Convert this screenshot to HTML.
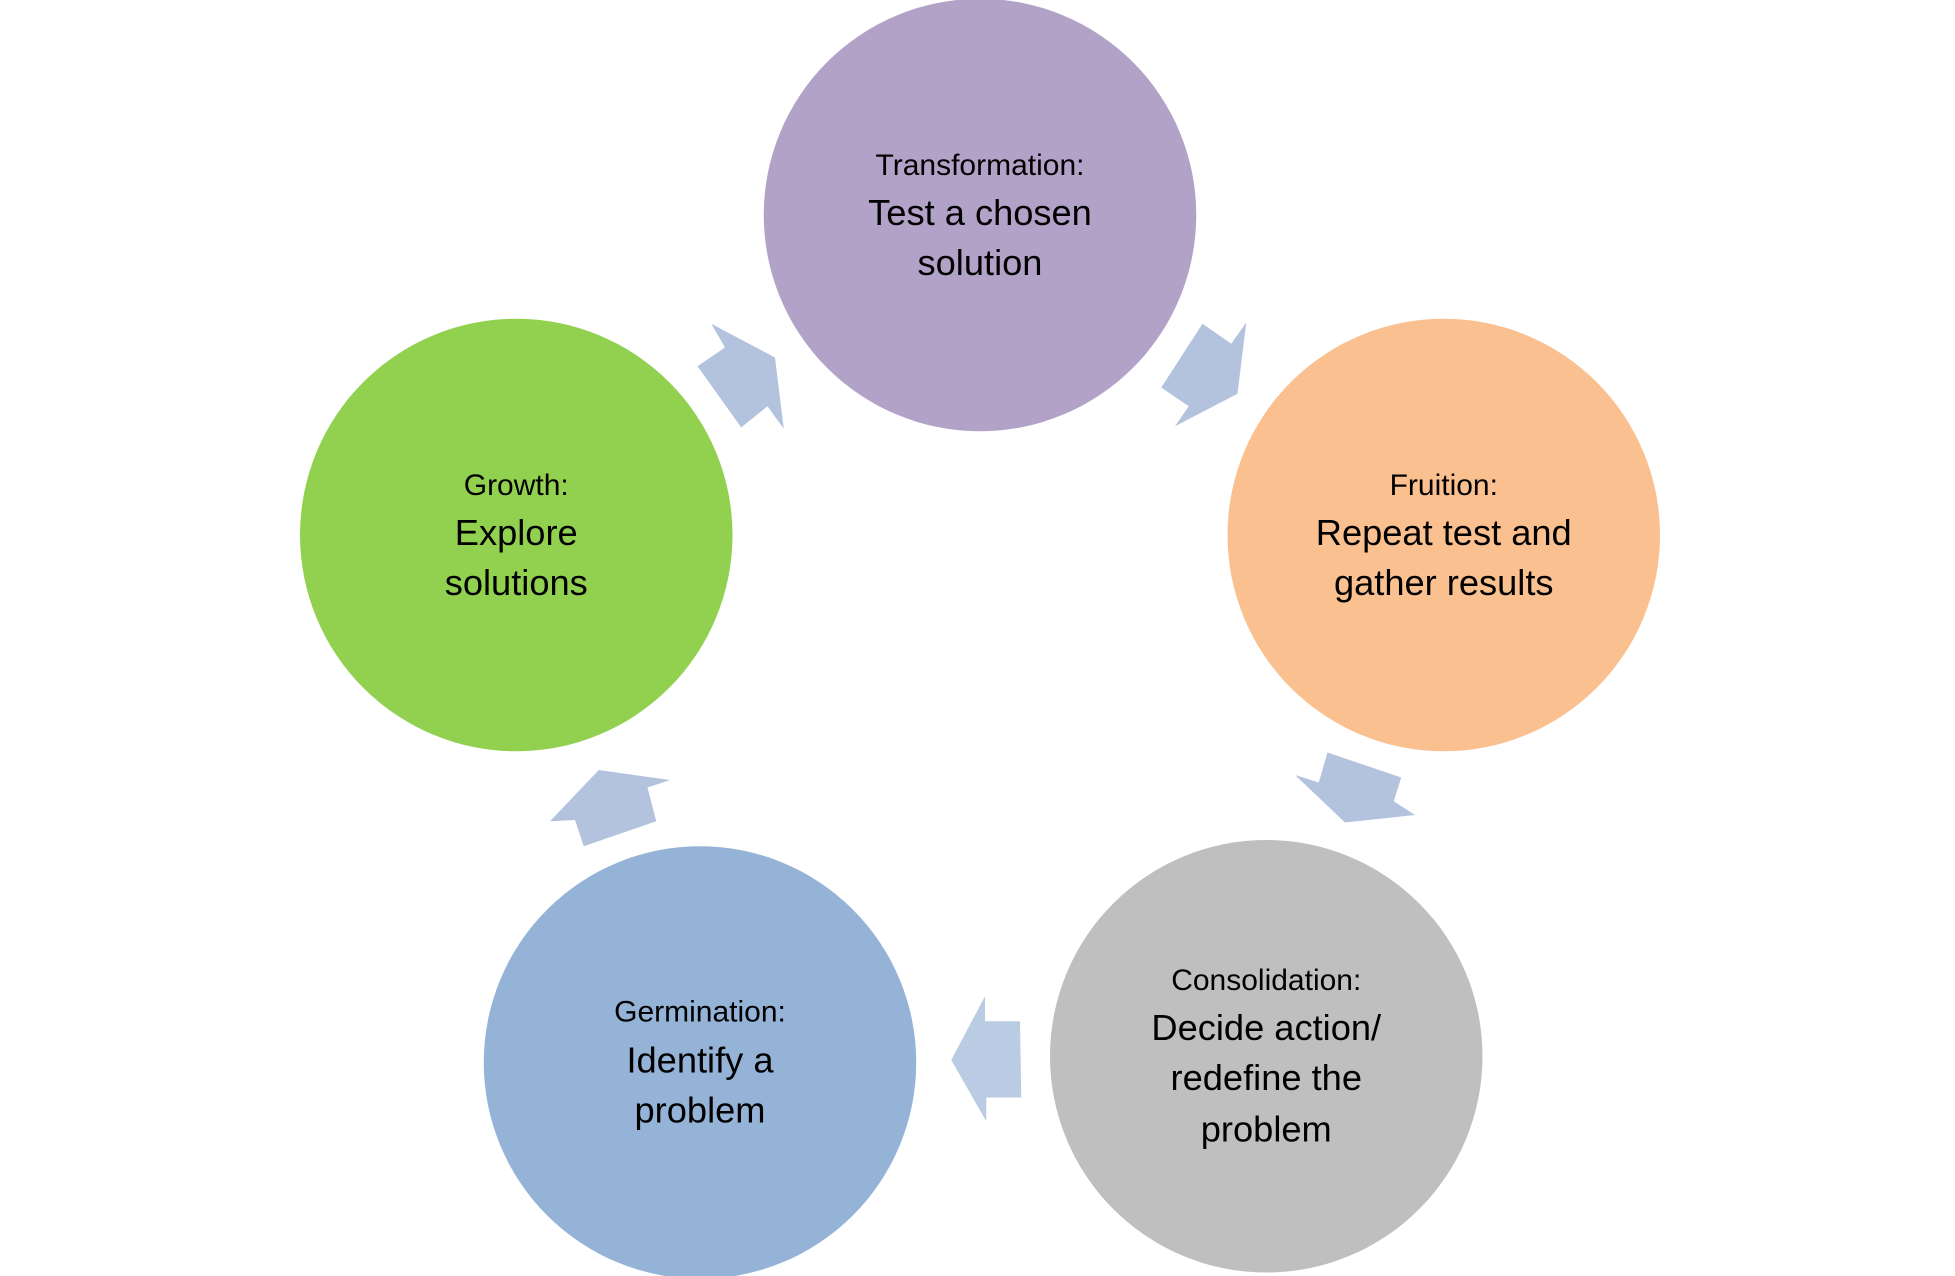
<!DOCTYPE html>
<html><head><meta charset="utf-8"><style>
html,body{margin:0;padding:0;background:#fff;}
svg{display:block;}
text{font-family:"Liberation Sans",sans-serif;fill:#000;text-anchor:middle;}
.s{font-size:24px;}
.b{font-size:29px;}
</style></head><body>
<svg width="1955" height="1276" viewBox="0 0 1564 1020.8" preserveAspectRatio="none">
<circle cx="784" cy="172" r="173" fill="#b3a2c7"/>
<circle cx="1155" cy="428" r="173" fill="#fac090"/>
<circle cx="1013" cy="845" r="173" fill="#bfbfbf"/>
<circle cx="560" cy="850" r="173" fill="#95b3d7"/>
<circle cx="413" cy="428" r="173" fill="#92d050"/>
<polygon fill="#b3c3de" points="569,259 620,286 627,343 614,325 593,342 558,293 580,278"/>
<polygon fill="#b3c3de" points="997,258 990,315 940,341 951,325 929,310 962,259 985,275"/>
<polygon fill="#b3c3de" points="1062,602 1121,622 1115,641 1132,652 1076,658 1036,620 1055,626"/>
<polygon fill="#b9cce4" points="816,817 817,878 789,878 789,897 761,848 788,797 788,817"/>
<polygon fill="#b3c3de" points="525,657 467,677 460,656 440,657 479,616 536,624 518,630"/>
<text class="s" x="784" y="140">Transformation:</text>
<text class="b" x="784" y="180">Test a chosen</text>
<text class="b" x="784" y="220">solution</text>
<text class="s" x="1155" y="396">Fruition:</text>
<text class="b" x="1155" y="436">Repeat test and</text>
<text class="b" x="1155" y="476">gather results</text>
<text class="s" x="1013" y="792">Consolidation:</text>
<text class="b" x="1013" y="832">Decide action/</text>
<text class="b" x="1013" y="872">redefine the</text>
<text class="b" x="1013" y="913">problem</text>
<text class="s" x="560" y="817">Germination:</text>
<text class="b" x="560" y="858">Identify a</text>
<text class="b" x="560" y="898">problem</text>
<text class="s" x="413" y="396">Growth:</text>
<text class="b" x="413" y="436">Explore</text>
<text class="b" x="413" y="476">solutions</text>
</svg>
</body></html>
